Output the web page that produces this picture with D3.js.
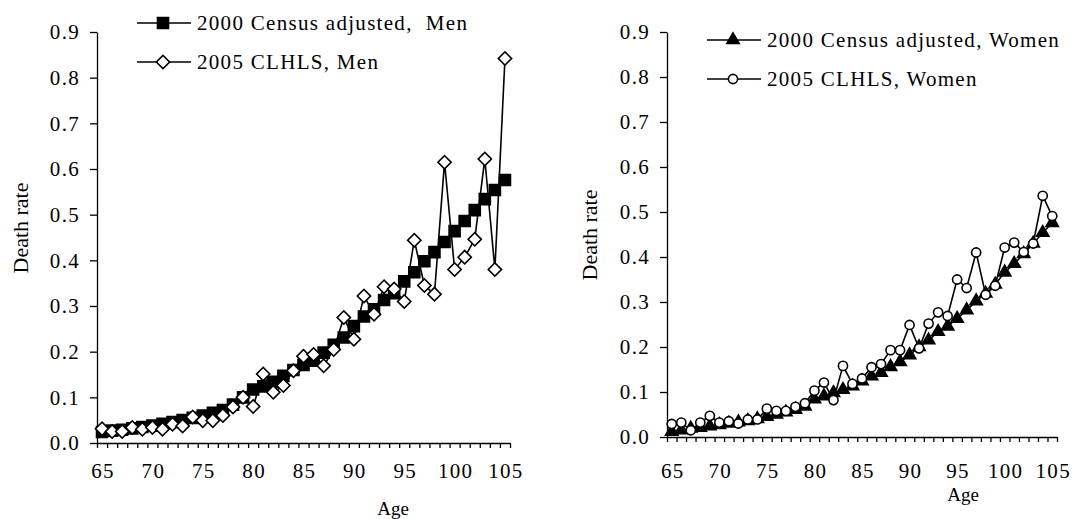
<!DOCTYPE html>
<html>
<head>
<meta charset="utf-8">
<script src="https://cdn.jsdelivr.net/npm/d3@7"></script>
<style>
  body { margin: 0; background: #fff; }
  svg text { font-family: "Liberation Serif", "Times New Roman", serif; fill: #000; }
  .tick-label, .axis text, .legend text { font-size: 21px; letter-spacing: 1.3px; }
  .age-title { font-size: 19px; }
  .rate-title { font-size: 22px; }
</style>
</head>
<body>
<svg id="chart" width="1078" height="519"></svg>
<script>
// ages on the category axis
const ages = [65, 66, 67, 68, 69, 70, 71, 72, 73, 74, 75, 76, 77, 78, 79, 80, 81, 82, 83, 84,
  85, 86, 87, 88, 89, 90, 91, 92, 93, 94, 95, 96, 97, 98, 99, 100, 101, 102, 103, 104, 105];

// death rates
const censusMen = [0.024, 0.027, 0.029, 0.032, 0.035, 0.038, 0.042, 0.046, 0.050, 0.055,
  0.060, 0.066, 0.072, 0.084, 0.100, 0.117, 0.124, 0.134, 0.147, 0.160,
  0.171, 0.180, 0.198, 0.215, 0.231, 0.256, 0.277, 0.293, 0.313, 0.328,
  0.354, 0.374, 0.398, 0.418, 0.440, 0.464, 0.486, 0.510, 0.534, 0.554, 0.576];
const clhlsMen = [0.031, 0.025, 0.025, 0.034, 0.030, 0.034, 0.030, 0.041, 0.037, 0.057,
  0.049, 0.049, 0.060, 0.079, 0.100, 0.080, 0.151, 0.111, 0.126, 0.158,
  0.190, 0.194, 0.169, 0.205, 0.275, 0.227, 0.322, 0.282, 0.342, 0.337,
  0.310, 0.444, 0.345, 0.326, 0.615, 0.380, 0.407, 0.446, 0.622, 0.380, 0.842];
const censusWomen = [0.012, 0.015, 0.019, 0.021, 0.024, 0.027, 0.030, 0.033, 0.036, 0.040,
  0.045, 0.050, 0.055, 0.061, 0.068, 0.084, 0.091, 0.098, 0.105, 0.113,
  0.124, 0.135, 0.143, 0.156, 0.167, 0.182, 0.200, 0.215, 0.234, 0.246,
  0.263, 0.282, 0.302, 0.319, 0.339, 0.366, 0.385, 0.407, 0.430, 0.454, 0.476];
const clhlsWomen = [0.029, 0.032, 0.015, 0.032, 0.047, 0.032, 0.035, 0.030, 0.039, 0.039,
  0.063, 0.058, 0.058, 0.067, 0.075, 0.103, 0.121, 0.082, 0.158, 0.118,
  0.130, 0.155, 0.162, 0.193, 0.193, 0.249, 0.197, 0.252, 0.277, 0.269,
  0.350, 0.331, 0.410, 0.316, 0.336, 0.421, 0.432, 0.411, 0.430, 0.536, 0.491];

const ageTicks = [65, 70, 75, 80, 85, 90, 95, 100, 105];
const rateTicks = [0, 0.1, 0.2, 0.3, 0.4, 0.5, 0.6, 0.7, 0.8, 0.9];

const svg = d3.select("#chart");

// marker shapes
const markers = {
  square: d3.symbol().type(d3.symbolSquare).size(121),
  diamond: d3.symbol().type(d3.symbolSquare).size(88),
  triangle: d3.symbol().type(d3.symbolTriangle).size(66),
  circle: d3.symbol().type(d3.symbolCircle).size(66)
};
const markerStyle = {
  square: { fill: "#000", rotate: 0 },
  diamond: { fill: "#fff", rotate: 45 },
  triangle: { fill: "#000", rotate: 0 },
  circle: { fill: "#fff", rotate: 0 }
};

function drawMarker(sel, kind) {
  sel.attr("d", markers[kind]())
    .attr("fill", markerStyle[kind].fill)
    .attr("stroke", "#000")
    .attr("stroke-width", 1.6);
}

function panel(p) {
  const x = d3.scaleLinear().domain([64.5, 105.5]).range([p.left, p.right]);
  const y = d3.scaleLinear().domain([0, 0.9]).range([p.bottom, p.top]);
  const g = svg.append("g");

  // y axis
  const ya = g.append("g")
    .attr("class", "axis")
    .attr("transform", `translate(${p.left},0)`)
    .call(d3.axisLeft(y).tickValues(rateTicks).tickFormat(d3.format(".1f"))
      .tickSize(7).tickPadding(10).tickSizeOuter(0));
  ya.attr("font-family", null).attr("font-size", null);
  ya.selectAll("line, path").attr("stroke", "#000").attr("stroke-width", 1.3);

  // x axis, one tick between each age
  const xa = g.append("g")
    .attr("transform", `translate(0,${p.bottom})`)
    .call(d3.axisBottom(x).tickValues(d3.range(64.5, 106, 1)).tickFormat("")
      .tickSize(5).tickSizeOuter(0));
  xa.selectAll("line, path").attr("stroke", "#000").attr("stroke-width", 1.3);

  g.append("g").selectAll("text")
    .data(ageTicks)
    .join("text")
    .attr("class", "tick-label")
    .attr("x", d => x(d) + 1)
    .attr("y", p.labelY)
    .attr("text-anchor", "middle")
    .text(d => d);

  // titles
  g.append("text")
    .attr("class", "age-title")
    .attr("x", p.ageX)
    .attr("y", p.ageY)
    .attr("text-anchor", "middle")
    .text("Age");
  g.append("text")
    .attr("class", "rate-title")
    .attr("transform", `translate(${p.rateX},${p.rateY}) rotate(-90)`)
    .attr("text-anchor", "middle")
    .attr("dy", "0.35em")
    .text("Death rate");

  // series
  const line = d3.line().x((d, i) => x(ages[i])).y(d => y(d));
  p.series.forEach(s => {
    g.append("path")
      .datum(s.values)
      .attr("fill", "none")
      .attr("stroke", "#000")
      .attr("stroke-width", 1.6)
      .attr("d", line);
    g.append("g").selectAll("path")
      .data(s.values)
      .join("path")
      .attr("transform", (d, i) => `translate(${x(ages[i])},${y(d)}) rotate(${markerStyle[s.marker].rotate})`)
      .call(drawMarker, s.marker);
  });

  // legend
  const lg = g.append("g").attr("class", "legend");
  p.series.forEach((s, i) => {
    const ly = p.legendY + i * 39;
    lg.append("line")
      .attr("x1", p.legendX).attr("x2", p.legendX + 54)
      .attr("y1", ly).attr("y2", ly)
      .attr("stroke", "#000").attr("stroke-width", 1.6);
    lg.append("path")
      .attr("transform", `translate(${p.legendX + 26},${ly}) rotate(${markerStyle[s.marker].rotate})`)
      .call(drawMarker, s.marker);
    lg.append("text")
      .attr("x", p.legendX + 60)
      .attr("y", ly + 7)
      .style("white-space", "pre")
      .text(s.name);
  });
}

panel({
  left: 97, right: 510, top: 32, bottom: 443,
  labelY: 478, ageX: 393, ageY: 515, rateX: 20, rateY: 228,
  legendX: 137, legendY: 23,
  series: [
    { name: "2000 Census adjusted,  Men", values: censusMen, marker: "square" },
    { name: "2005 CLHLS, Men", values: clhlsMen, marker: "diamond" }
  ]
});

panel({
  left: 667, right: 1057, top: 32, bottom: 437,
  labelY: 478, ageX: 963, ageY: 501, rateX: 589, rateY: 235,
  legendX: 707, legendY: 40,
  series: [
    { name: "2000 Census adjusted, Women", values: censusWomen, marker: "triangle" },
    { name: "2005 CLHLS, Women", values: clhlsWomen, marker: "circle" }
  ]
});
</script>
</body>
</html>
